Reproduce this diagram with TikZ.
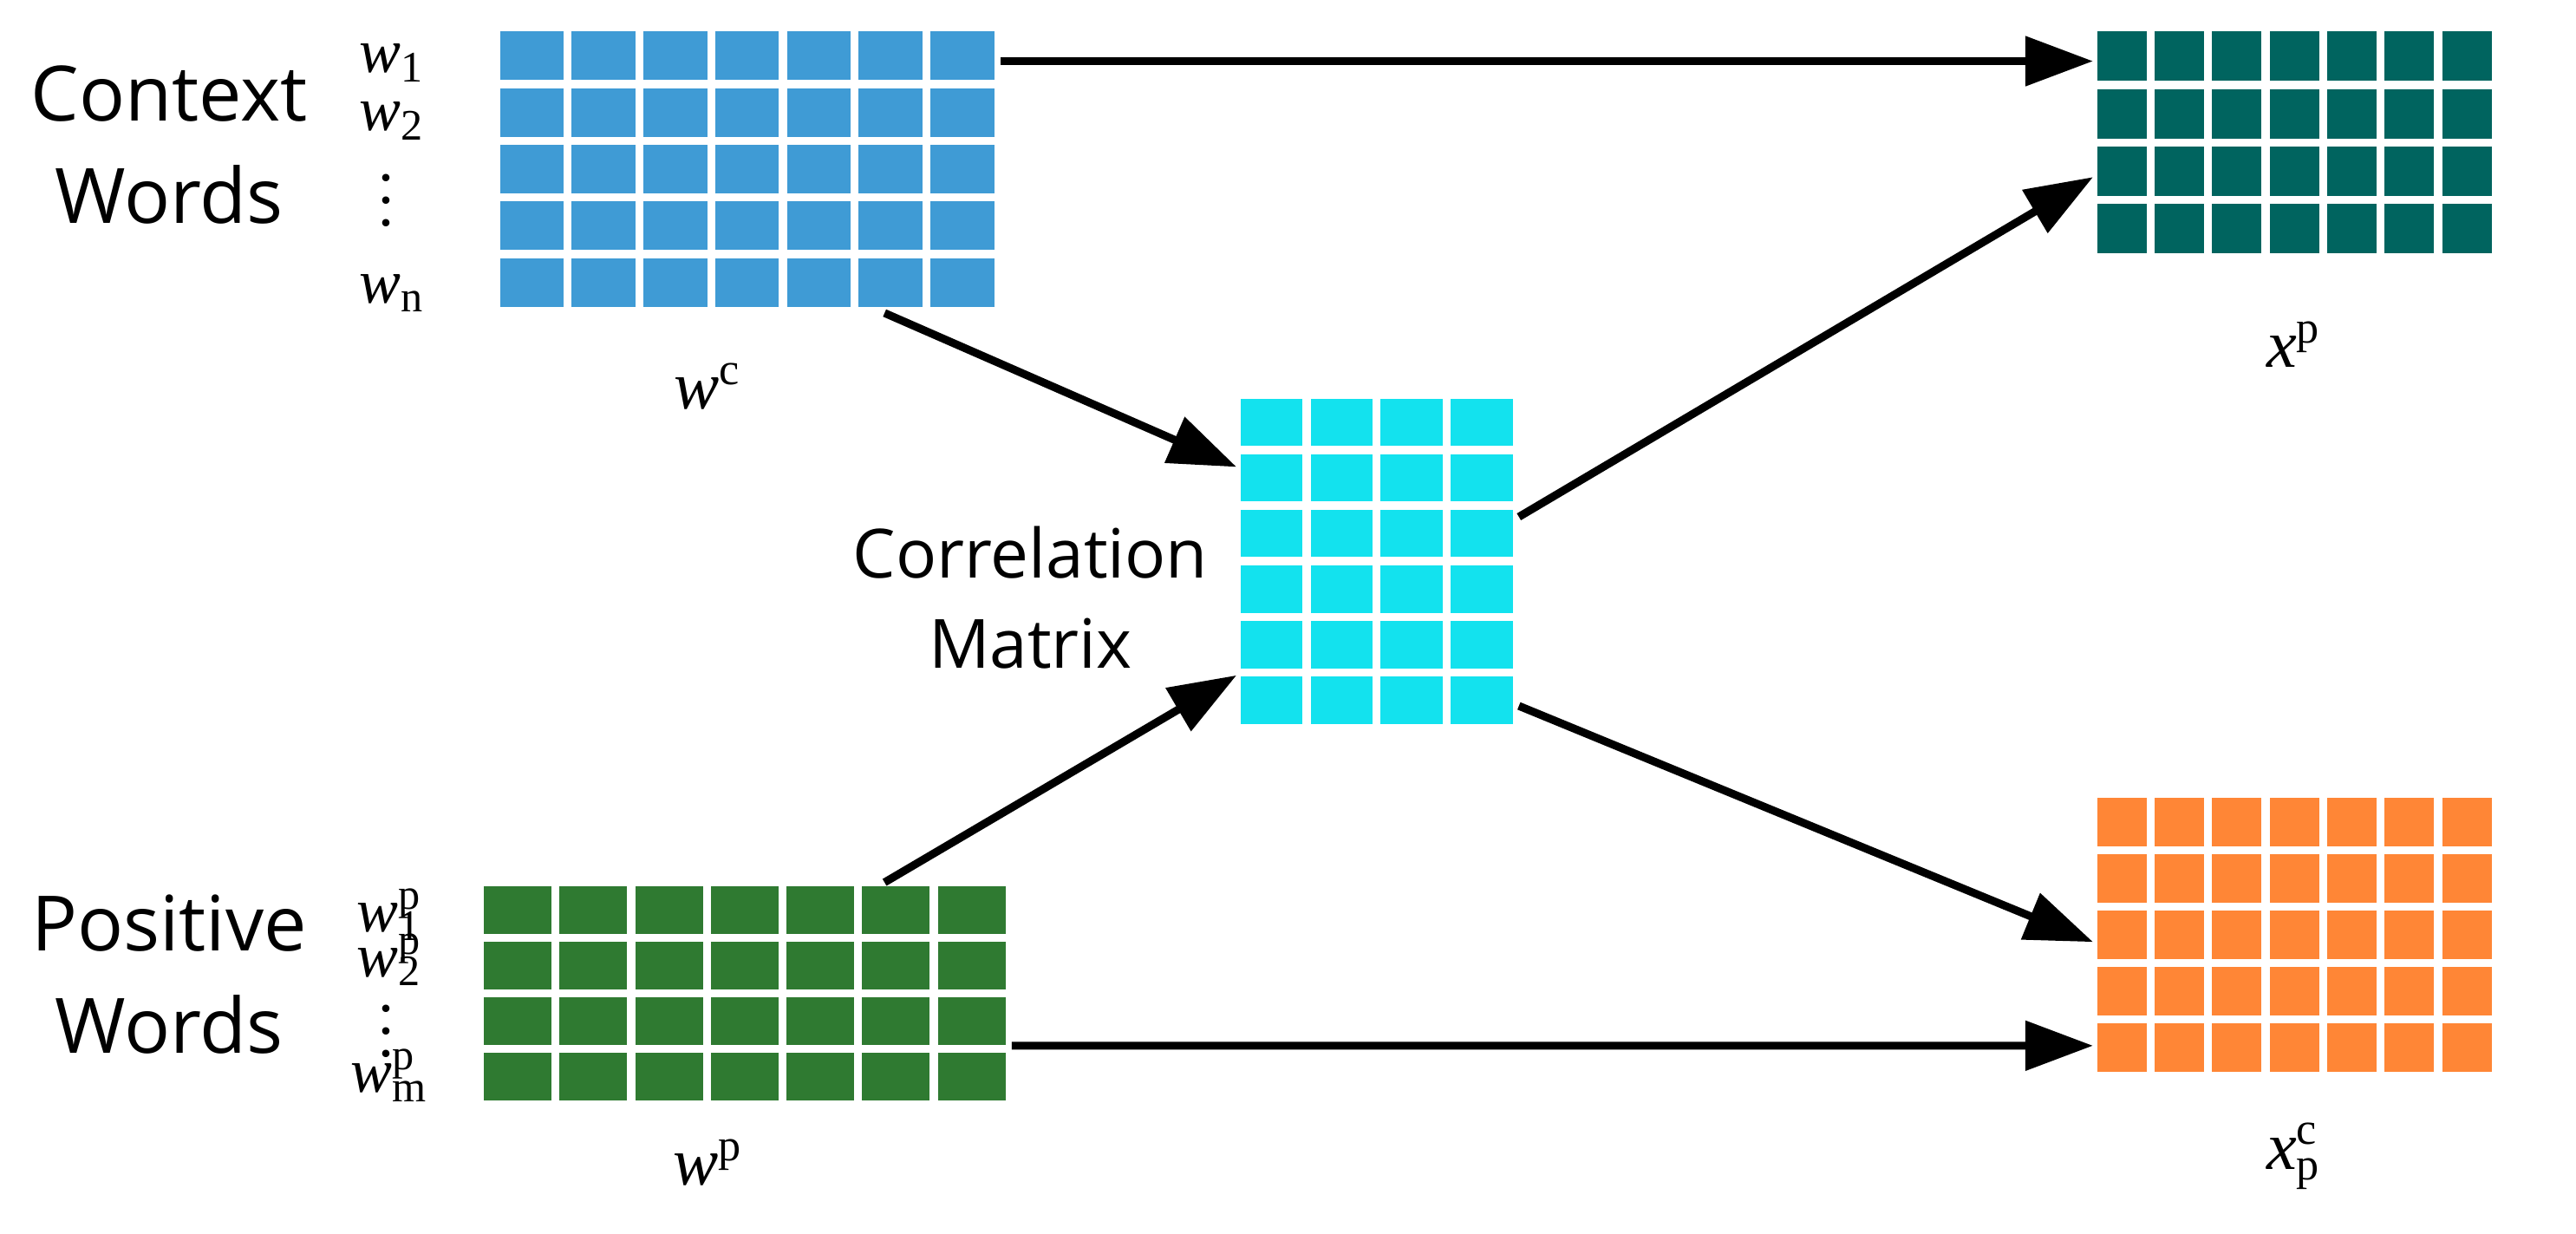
\documentclass[tikz,border=0pt]{standalone}
\usepackage{fontspec}
\setmainfont{Liberation Serif}
\newfontfamily\mysans{Open Sans}
\usetikzlibrary{arrows.meta,calc}
\definecolor{cblue}{HTML}{3F9BD5}
\definecolor{cteal}{HTML}{00645F}
\definecolor{ccyan}{HTML}{13E2EE}
\definecolor{cgreen}{HTML}{2F7A31}
\definecolor{corange}{HTML}{FF8636}
% #1 name, #2 x0, #3 ytop, #4 x1, #5 ybot, #6 cols, #7 rows, #8 colour
\newcommand\mymat[8]{%
  \node[inner sep=0pt,minimum width={(#4-#2)*1cm},minimum height={(#3-#5)*1cm},anchor=north west] (#1) at (#2,#3) {};
  \pgfmathsetmacro\cw{(#4-#2)/#6}\pgfmathsetmacro\ch{(#3-#5)/#7}%
  \foreach \i in {1,...,#6}{\foreach \j in {1,...,#7}{%
    \fill[#8] ({#2+(\i-1)*\cw+0.025},{#3-(\j-1)*\ch-0.025}) rectangle ({#2+\i*\cw-0.025},{#3-\j*\ch+0.025});}}%
}
\newcommand\wi[1]{\textit{w}#1}
\tikzset{arr/.style={line width=1.4pt,-{Triangle[length=0.42cm,width=0.3cm]}},
  big/.style={font=\mysans\fontsize{13.5}{18}\selectfont,align=center},
  lab/.style={font=\fontsize{12}{14}\selectfont,inner sep=0pt},
  slab/.style={font=\fontsize{11}{12}\selectfont,inner sep=0pt}}
\begin{document}
\begin{tikzpicture}
\useasboundingbox (0,0) rectangle (16,7.66);
\mymat{B}{3.08}{7.49}{6.20}{5.73}{7}{5}{cblue}
\mymat{T}{13.00}{7.49}{15.50}{6.06}{7}{4}{cteal}
\mymat{C}{7.68}{5.21}{9.42}{3.14}{4}{6}{ccyan}
\mymat{G}{2.98}{2.18}{6.27}{0.80}{7}{4}{cgreen}
\mymat{O}{13.00}{2.73}{15.50}{0.98}{7}{5}{corange}
% texts
\node[big] (ctx) at (1.05,6.76) {Context\\Words};
\node[big] (pos) at (1.05,1.61) {Positive\\Words};
\node[font=\mysans\fontsize{12}{16}\selectfont,align=center] (corr) at (6.4,3.95) {Correlation\\Matrix};
\node[slab] (w1) at (2.44,7.27) {\wi{\textsubscript{1}}};
\node[slab] (w2) at (2.44,6.91) {\wi{\textsubscript{2}}};
\node[slab] (wd) at (2.40,6.52) {$\vdots$};
\node[slab] (wn) at (2.44,5.84) {\wi{\textsubscript{n}}};
\node[lab] (Wc) at (4.40,5.26) {\wi{\textsuperscript{c}}};
\node[lab] (xp) at (14.25,5.52) {\textit{x}\textsuperscript{p}};
\node[slab] (p1) at (2.42,1.98) {\wi{\rlap{\textsuperscript{p}}\textsubscript{1}}};
\node[slab] (p2) at (2.42,1.70) {\wi{\rlap{\textsuperscript{p}}\textsubscript{2}}};
\node[slab] (pd) at (2.40,1.36) {$\vdots$};
\node[slab] (pm) at (2.42,0.98) {\wi{\rlap{\textsuperscript{p}}\textsubscript{m}}};
\node[lab] (Wp) at (4.40,0.44) {\wi{\textsuperscript{p}}};
\node[lab] (xc) at (14.25,0.48) {\textit{x}\rlap{\textsuperscript{c}}\textsubscript{p}};
% arrows
\draw[arr] ($(B.north east)+(0,-0.21)$) -- ($(T.north west)+(0,-0.21)$);
\draw[arr] ($(B.south east)+(-0.72,0)$) -- ($(C.north west)+(0,-0.45)$);
\draw[arr] ($(C.north east)+(0,-0.76)$) -- ($(T.north west)+(0,-0.93)$);
\draw[arr] ($(G.north east)+(-0.79,0)$) -- ($(C.south west)+(0,0.34)$);
\draw[arr] ($(C.south east)+(0,0.15)$) -- ($(O.north west)+(0,-0.92)$);
\draw[arr] ($(G.south east)+(0,0.38)$) -- ($(O.south west)+(0,0.20)$);
\end{tikzpicture}
\end{document}
